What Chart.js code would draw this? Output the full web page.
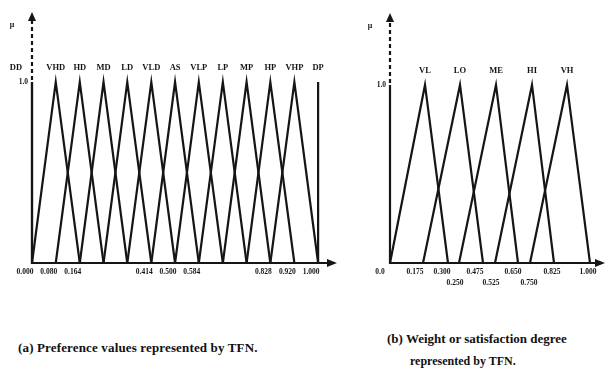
<!DOCTYPE html>
<html><head><meta charset="utf-8">
<script src="https://cdn.jsdelivr.net/npm/chart.js@4.4.0/dist/chart.umd.min.js"></script>
<style>
html,body{margin:0;padding:0;background:#fff;width:610px;height:374px;overflow:hidden;}
#ca{position:absolute;left:0;top:0;}
#cb{position:absolute;left:360px;top:0;}
.cap{position:absolute;font-family:"Liberation Serif",serif;font-weight:bold;font-size:13px;color:#111;white-space:nowrap;line-height:15px;}
</style></head><body>
<canvas id="ca" width="345" height="300"></canvas>
<canvas id="cb" width="250" height="300"></canvas>
<div class="cap" style="left:18px;top:340px;letter-spacing:0.15px;">(a) Preference values represented by TFN.</div>
<div class="cap" style="left:387px;top:331px;">(b) Weight or satisfaction degree</div>
<div class="cap" style="left:410px;top:354px;font-size:12px;">represented by TFN.</div>
<script>
// Panel (a): preference values (TFN low, mid, high)
const termsA = ['DD','VHD','HD','MD','LD','VLD','AS','VLP','LP','MP','HP','VHP','DP'];
const lowA  = [0, 0, 0.083, 0.167, 0.25, 0.333, 0.417, 0.5, 0.583, 0.667, 0.75, 0.833, 1];
const midA  = [0, 0.083, 0.167, 0.25, 0.333, 0.417, 0.5, 0.583, 0.667, 0.75, 0.833, 0.917, 1];
const highA = [0, 0.167, 0.25, 0.333, 0.417, 0.5, 0.583, 0.667, 0.75, 0.833, 0.917, 1, 1];
const tickPosA  = [0, 0.083, 0.167, 0.417, 0.5, 0.583, 0.833, 0.917, 1];
const tickTextA = ['0.000','0.080','0.164','0.414','0.500','0.584','0.828','0.920','1.000'];

// Panel (b): weight / satisfaction degree (TFN low, mid, high)
const termsB = ['VL','LO','ME','HI','VH'];
const lowB  = [0, 0.165, 0.345, 0.525, 0.70];
const midB  = [0.175, 0.35, 0.53, 0.71, 0.885];
const highB = [0.29, 0.465, 0.64, 0.82, 1.0];
const tickPosB1  = [-0.05, 0.125, 0.26, 0.425, 0.615, 0.81, 0.99];
const tickTextB1 = ['0.0','0.175','0.300','0.475','0.650','0.825','1.000'];
const tickPosB2  = [0.325, 0.505, 0.695];
const tickTextB2 = ['0.250','0.525','0.750'];

const INK = '#151515';
const serif = '"Liberation Serif", "DejaVu Serif", serif';
const tickFont = {family: serif, size: 7.5, weight: 'bold'};

function makeSets(lo, mi, hi) {
  return lo.map((l, i) => ({
    data: [{x: l, y: 0}, {x: mi[i], y: 1}, {x: hi[i], y: 0}],
    borderColor: INK, borderWidth: 2.2, pointRadius: 0, fill: false,
    tension: 0, clip: false, borderJoinStyle: 'miter'
  }));
}

const decor = {
  id: 'decor',
  afterDraw(chart, args, o) {
    const {ctx, scales: {x, y}} = chart;
    const x0 = x.getPixelForValue(0), y0 = y.getPixelForValue(0), y1 = y.getPixelForValue(1);
    const yTop = y.getPixelForValue(y.max), xEnd = x.getPixelForValue(x.max);
    ctx.save();
    ctx.strokeStyle = INK; ctx.fillStyle = INK; ctx.lineWidth = 2.2;
    ctx.beginPath(); ctx.moveTo(x0, y0 + 1); ctx.lineTo(x0, y1); ctx.stroke();
    ctx.setLineDash([4, 3]);
    ctx.beginPath(); ctx.moveTo(x0, y1 - 2); ctx.lineTo(x0, yTop + 8); ctx.stroke();
    ctx.setLineDash([]);
    ctx.beginPath(); ctx.moveTo(x0, yTop); ctx.lineTo(x0 - 4, yTop + 9); ctx.lineTo(x0 + 4, yTop + 9); ctx.closePath(); ctx.fill();
    ctx.beginPath(); ctx.moveTo(x0 - 1, y0); ctx.lineTo(xEnd - 6, y0); ctx.stroke();
    ctx.beginPath(); ctx.moveTo(xEnd, y0); ctx.lineTo(xEnd - 10, y0 - 4); ctx.lineTo(xEnd - 10, y0 + 4); ctx.closePath(); ctx.fill();
    ctx.textAlign = 'center'; ctx.textBaseline = 'middle';
    ctx.font = 'bold 8px ' + serif;
    ctx.fillText('\u03bc', x0 - 20, yTop + 13);
    ctx.font = 'bold 8.5px ' + serif;
    o.terms.forEach((t, i) => {
      let px = x.getPixelForValue(o.mids[i]);
      if (i === 0 && o.mids[i] === 0) px -= 16;
      ctx.fillText(t, px, y1 - 14);
    });
    ctx.restore();
  }
};

function tickAxis(pos, text, extra, tickExtra) {
  return Object.assign({
    type: 'linear', position: 'bottom',
    grid: {display: false, drawTicks: false}, border: {display: false},
    afterBuildTicks: s => { s.ticks = pos.map(v => ({value: v})); },
    ticks: Object.assign({autoSkip: false, maxRotation: 0, padding: 5, color: INK,
      font: tickFont, callback: (v, i) => text[i]}, tickExtra || {})
  }, extra);
}

function yAxis(max) {
  return {
    type: 'linear', min: 0, max: max, position: 'left',
    grid: {display: false, drawTicks: false}, border: {display: false},
    afterBuildTicks: s => { s.ticks = [{value: 1}]; },
    afterFit: s => { s.width = 16; },
    ticks: {padding: 4, color: INK, font: tickFont, callback: () => '1.0'}
  };
}

new Chart(document.getElementById('ca'), {
  type: 'line',
  data: {datasets: makeSets(lowA, midA, highA)},
  options: {
    responsive: false, animation: false, events: [],
    layout: {padding: {left: 16, right: 8, top: 12, bottom: 17}},
    plugins: {legend: {display: false}, tooltip: {enabled: false}, decor: {terms: termsA, mids: midA}},
    scales: {
      x: tickAxis(tickPosA, tickTextA, {min: 0, max: 1.066, afterFit: s => { s.height = 20; }}, {labelOffset: -7}),
      y: yAxis(1.387)
    }
  },
  plugins: [decor]
});

new Chart(document.getElementById('cb'), {
  type: 'line',
  data: {datasets: makeSets(lowB, midB, highB)},
  options: {
    responsive: false, animation: false, events: [],
    layout: {padding: {left: 14, right: 5, top: 13, bottom: 13}},
    plugins: {legend: {display: false}, tooltip: {enabled: false}, decor: {terms: termsB, mids: midB}},
    scales: {
      x: tickAxis(tickPosB1, tickTextB1, {min: 0, max: 1.075, afterFit: s => { s.height = 12; }}),
      x2: tickAxis(tickPosB2, tickTextB2, {min: 0, max: 1.075, afterFit: s => { s.height = 12; }}, {padding: 4}),
      y: yAxis(1.404)
    }
  },
  plugins: [decor]
});
</script>
</body></html>
